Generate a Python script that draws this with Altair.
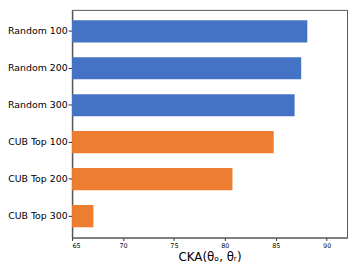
import altair as alt
import pandas as pd

categories = ["Random 100", "Random 200", "Random 300", "CUB Top 100", "CUB Top 200", "CUB Top 300"]
values = [88.1, 87.5, 86.85, 84.8, 80.75, 67.1]
groups = ["Random", "Random", "Random", "CUB", "CUB", "CUB"]
x_ticks = [65, 70, 75, 80, 85, 90]

df = pd.DataFrame({"cat": categories, "val": values, "grp": groups})

chart = alt.Chart(df).mark_bar(clip=True).encode(
    y=alt.Y("cat:N", sort=categories, title=None,
            scale=alt.Scale(paddingInner=0.4, paddingOuter=0.28),
            axis=alt.Axis(labelFontSize=9.5, labelFont="DejaVu Sans", labelColor="black",
                          tickSize=4, tickColor="#333", labelPadding=1,
                          domainColor="#555", domainWidth=1.5)),
    x=alt.X("val:Q", title="CKA(θₒ, θᵣ)",
            scale=alt.Scale(domain=[65, 92], nice=False, zero=False),
            axis=alt.Axis(values=x_ticks, labelFontSize=6.5, labelFont="DejaVu Sans", labelColor="black",
                          tickSize=3, tickColor="#333", grid=False, domainColor="#555",
                          titleFontSize=12, titleFont="DejaVu Sans", titleFontWeight="normal",
                          titleColor="black", titlePadding=3, labelPadding=2)),
    color=alt.Color("grp:N", scale=alt.Scale(domain=["Random", "CUB"], range=["#4472C4", "#ED7D31"]),
                    legend=None),
).properties(
    width=279, height=231,
    padding={"left": 65, "top": 0, "right": 2, "bottom": 30},
    autosize=alt.AutoSizeParams(type="none"),
).configure_view(stroke="#555", strokeWidth=1).configure_axis(grid=False)

chart.save("out.html", embed_options={"renderer": "svg", "actions": False})
